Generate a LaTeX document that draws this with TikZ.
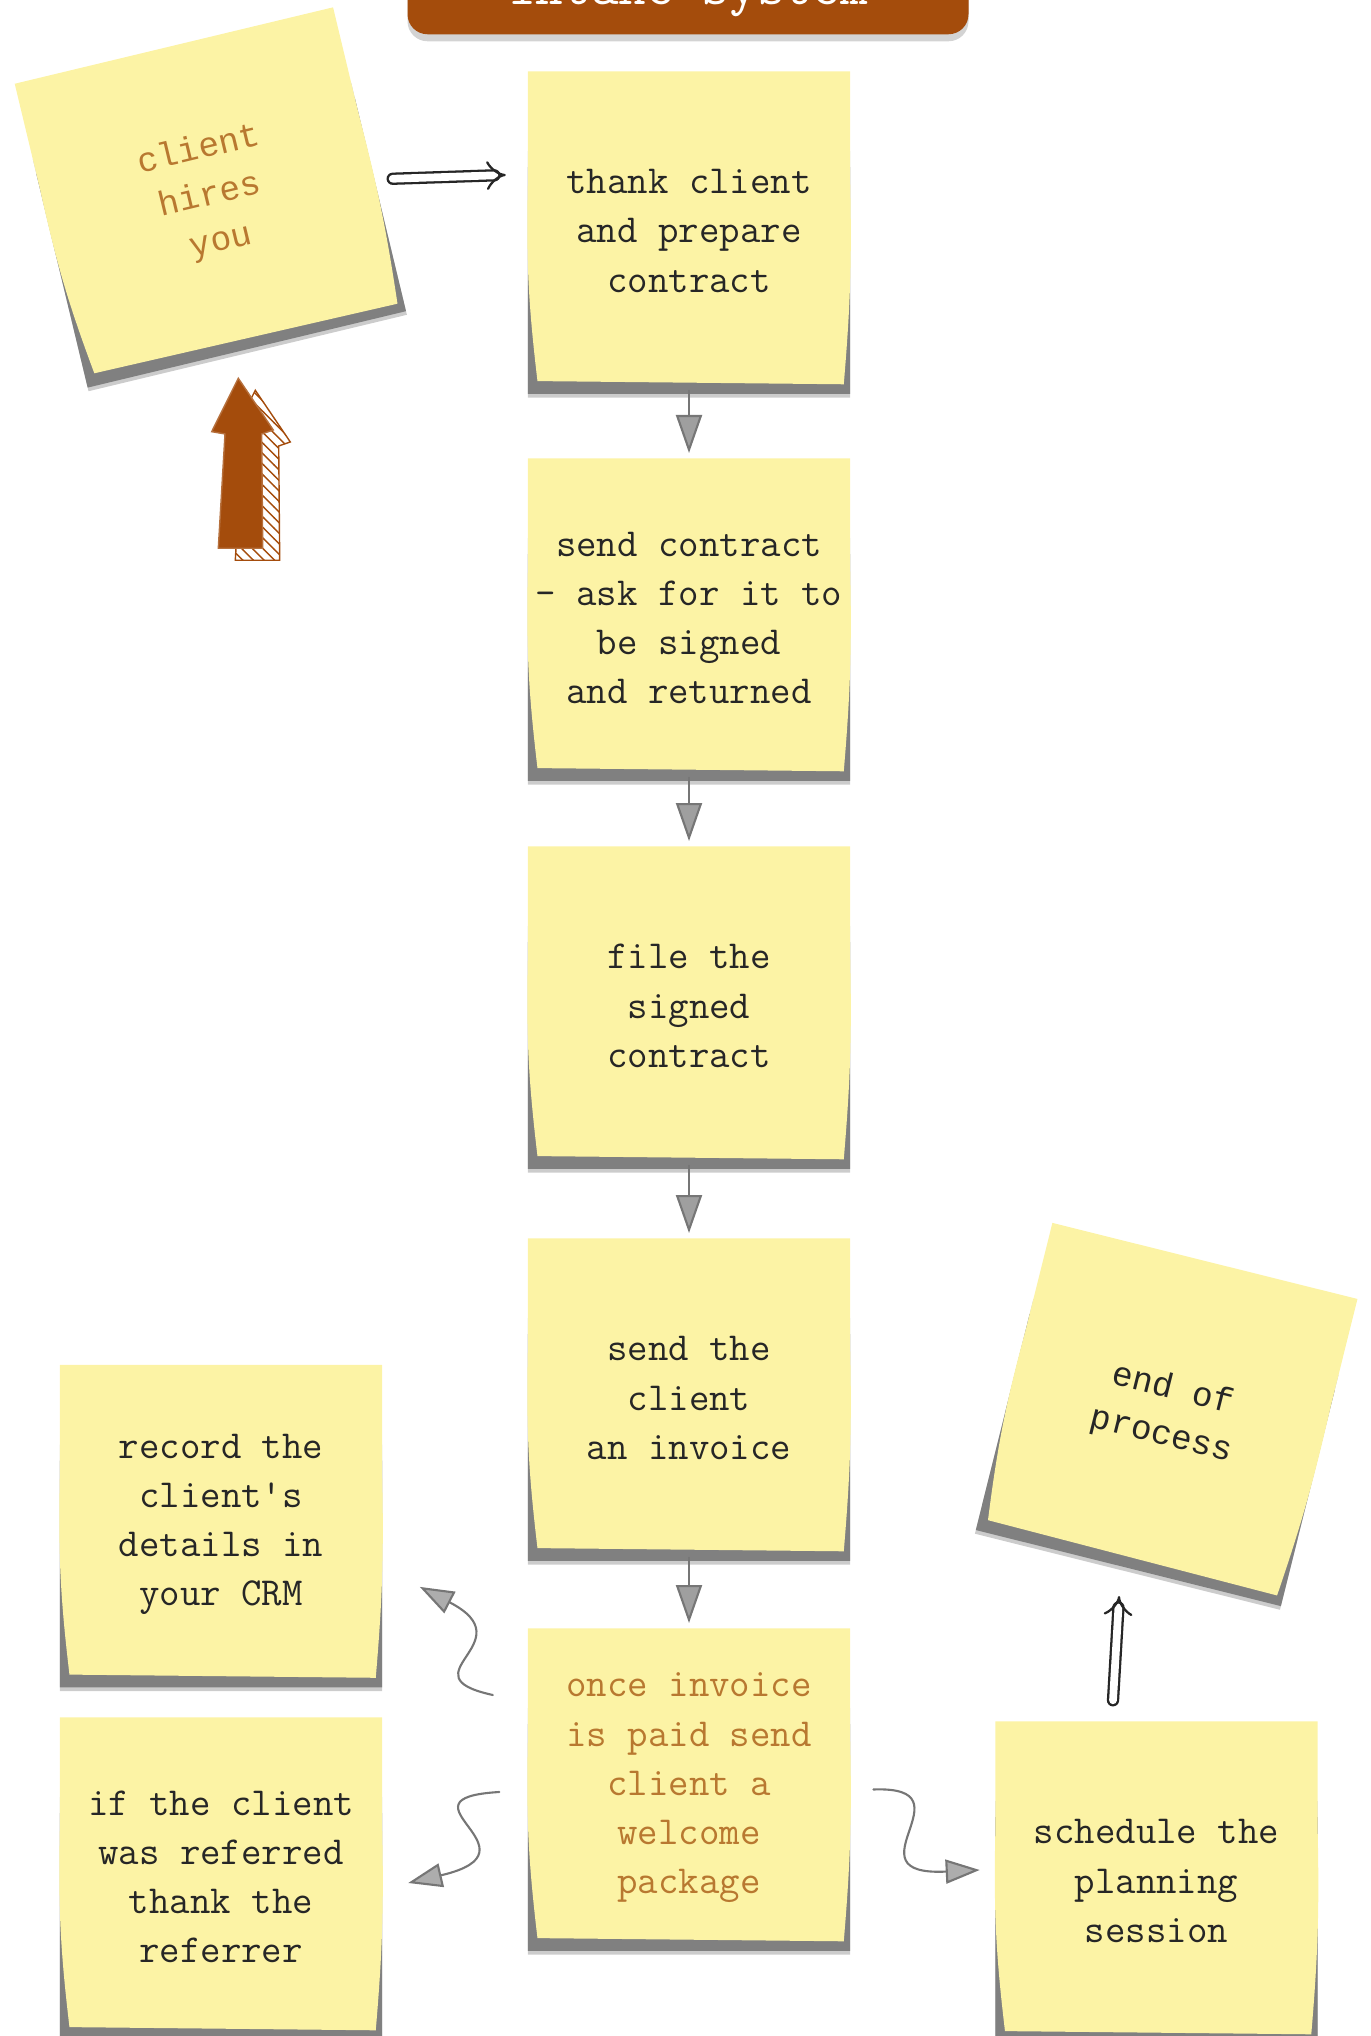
\documentclass[tikz,border=0pt]{standalone}
\usepackage{fontspec}
\newfontfamily\courierfont{Liberation Mono}
\usetikzlibrary{arrows.meta}
\usetikzlibrary{backgrounds}
\usetikzlibrary{calc}
\usetikzlibrary{patterns}
\usetikzlibrary{shadows}
\definecolor{notey}{RGB}{252,243,165}
\definecolor{noteshade}{RGB}{128,128,128}
\definecolor{rust}{RGB}{164,76,12}
\definecolor{ochre}{RGB}{184,120,48}
\definecolor{ink}{RGB}{38,38,38}
\definecolor{pencil}{RGB}{118,118,118}

\begin{document}
\begin{tikzpicture}[line cap=round, every node/.style={align=center}]
	\tikzstyle{note}=[minimum width=3.21cm, minimum height=3.18cm, inner sep=0pt, text=ink, font=\ttfamily\fontsize{11.3}{14}\selectfont]
	\tikzstyle{tilted}=[note, font=\fontsize{9.8}{13.4}\selectfont\courierfont]
	\tikzstyle{flowarrow}=[draw=pencil, line width=0.6pt, -{Triangle[length=0.38cm,width=0.26cm,fill=pencil!70]}, shorten >=1.5pt]
	\tikzstyle{curly}=[draw=pencil, line width=0.6pt, -{Triangle[length=0.34cm,width=0.24cm,fill=pencil!60]}]
	\tikzstyle{twin}=[draw=ink, double, double distance=2.2pt, line width=0.65pt, -{Implies[scale=1.2]}]

	\useasboundingbox (0,0) rectangle (13.70,20.36);
	\clip (0,0) rectangle (13.70,20.36);

	% Draw title
	\node[fill=rust, rounded corners=0.2cm, minimum width=5.61cm, anchor=south, text depth=0pt, inner ysep=0.3cm, text=white, font=\ttfamily\fontsize{15.3}{18}\selectfont, drop shadow={opacity=0.35, shadow xshift=0pt, shadow yshift=-2pt}] (title) at (6.88,20.01) {intake system};

	% Draw notes
	\node[tilted, text=ochre, rotate=13.5, minimum width=3.26cm, minimum height=3.08cm] (client) at (2.10,18.40) {client\\hires\\you};
	\node[note] (thank) at (6.89,18.05) {thank client\\and prepare\\contract};
	\node[note] (send) at (6.89,14.18) {send contract\\- ask for it to\\be signed\\and returned};
	\node[note] (file) at (6.89,10.30) {file the\\signed\\contract};
	\node[note] (invoice) at (6.89,6.38) {send the\\client\\an invoice};
	\node[note, text=ochre] (welcome) at (6.89,2.48) {once invoice\\is paid send\\client a\\welcome\\package};
	\node[note] (crm) at (2.21,5.115) {record the\\client's\\details in\\your CRM};
	\node[note] (referrer) at (2.21,1.59) {if the client\\was referred\\thank the\\referrer};
	\node[note] (schedule) at (11.565,1.55) {schedule the\\planning\\session};
	\node[tilted, rotate=-14, minimum width=3.13cm, minimum height=3.12cm] (finish) at (11.67,6.23) {end of\\process};

	% Draw paper behind the notes
	\begin{pgfonlayer}{background}
		\foreach \n in {client,thank,send,file,invoice,welcome,crm,referrer,schedule,finish}{
			\fill[noteshade!40] ($(\n.north west)!0.25!(\n.south west)$) -- ($(\n.south west)!-0.022!(\n.north west)$) -- ($(\n.south east)!-0.022!(\n.north east)$) -- ($(\n.north east)!0.25!(\n.south east)$) -- cycle;
			\fill[noteshade] ($(\n.north west)!0.3!(\n.south west)$) -- ($(\n.south west)!-0.01!(\n.north west)$) -- ($(\n.south east)!-0.01!(\n.north east)$) -- ($(\n.north east)!0.3!(\n.south east)$) -- cycle;
			\fill[notey] (\n.north west) -- (\n.north east) -- ($(\n.north east)!0.35!(\n.south east)$) to[bend left=3] ($(\n.south east)!0.02!(\n.north west)$) -- ($(\n.south west)!0.03!(\n.north east)$) to[bend left=4] ($(\n.north west)!0.35!(\n.south west)$) -- cycle;
		}
	\end{pgfonlayer}

	% Draw big arrow
	\fill[pattern=north west lines, pattern color=rust, draw=rust, line width=0.4pt, shift={(0.17,-0.12)}] (2.183,14.877) -- (2.25,16.02) -- (2.117,16.043) -- (2.383,16.577) -- (2.733,16.06) -- (2.617,16.02) -- (2.627,14.877) -- cycle;
	\fill[rust, draw=rust!80, line width=0.4pt] (2.183,14.877) -- (2.25,16.02) -- (2.117,16.043) -- (2.383,16.577) -- (2.733,16.06) -- (2.617,16.02) -- (2.627,14.877) -- cycle;

	% Draw arrows
	\draw[twin] ($(client.east)+(0.235,-0.21)$) -- ([shift={(-0.22,0.56)}]thank.west);
	\path[flowarrow] (thank) edge (send);
	\path[flowarrow] (send) edge (file);
	\path[flowarrow] (file) edge (invoice);
	\path[flowarrow] (invoice) edge (welcome);
	\draw[curly] ([shift={(-0.35,0.93)}]welcome.west) .. controls +(-0.909,0.198) and +(1.078,-0.558) .. ([shift={(0.376,-0.624)}]crm.east);
	\draw[curly] ([shift={(-0.285,-0.04)}]welcome.west) .. controls +(-1.104,-0.066) and +(1.389,0.325) .. ([shift={(0.26,-0.06)}]referrer.east);
	\draw[curly] ([shift={(0.231,-0.015)}]welcome.east) .. controls +(1.014,0.039) and +(-1.363,-0.065) .. ([shift={(-0.156,0.11)}]schedule.west);
	\draw[twin] ([shift={(-0.435,0.21)}]schedule.north) -- ([shift={(-0.10,-0.31)}]finish.south);

\end{tikzpicture}
\end{document}
